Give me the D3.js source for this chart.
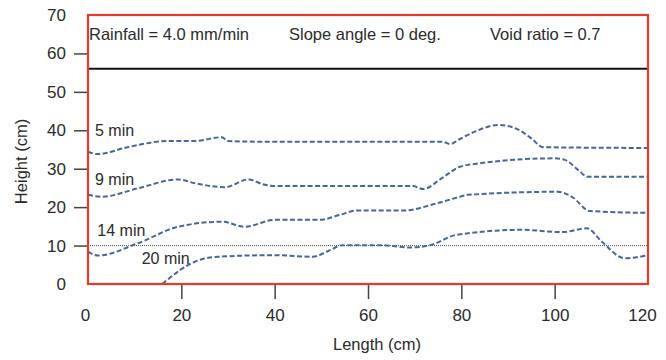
<!DOCTYPE html>
<html>
<head>
<meta charset="utf-8">
<script src="https://cdn.jsdelivr.net/npm/d3@7"></script>
<style>
  html, body { margin: 0; padding: 0; background: #fff; }
  svg { display: block; font-family: "Liberation Sans", Arial, Helvetica, sans-serif; }
</style>
</head>
<body>
<svg id="chart" width="666" height="360"></svg>
<script>
// Surface profiles of the slope model at successive times
const xTicks = [0, 20, 40, 60, 80, 100, 120];
const yTicks = [0, 10, 20, 30, 40, 50, 60, 70];

const seriesNames = ["5 min", "9 min", "14 min", "20 min"];

const len5 =  [0, 2.1, 8.5, 17.1, 22.9, 28.7, 30, 40, 76, 77.6, 79.5, 83, 88, 92, 95, 97.5, 120];
const h5 =    [34.4, 33.8, 35.6, 37.2, 37.2, 38.2, 37.2, 37.0, 37.0, 36.4, 37.6, 39.7, 41.4, 40.3, 37.9, 35.6, 35.4];

const len9 =  [0, 3, 10.7, 19.3, 23, 29.4, 34.3, 37.9, 40, 69.6, 71.8, 76, 79.7, 81.4, 100, 102.2, 105, 107.1, 120];
const h9 =    [23.2, 22.7, 24.9, 27.2, 26.2, 25.2, 27.2, 25.8, 25.5, 25.5, 24.7, 27.7, 30.5, 31.0, 32.7, 32.3, 29.7, 27.9, 27.9];

const len14 = [0, 2.1, 10.7, 19.3, 28.7, 33.6, 40, 49.7, 54, 57.6, 67.5, 74.8, 79.7, 81.4, 100.7, 103.7, 107.5, 120];
const h14 =   [8.4, 7.4, 10.6, 14.9, 16.2, 14.9, 16.7, 16.7, 18.0, 19.1, 19.1, 21.0, 22.7, 23.2, 24.0, 22.7, 19.0, 18.5];

const len20 = [15.9, 22.9, 27.9, 40, 48.2, 51.5, 54.6, 62.6, 69, 73.3, 79, 93, 101.6, 106.9, 110.1, 115, 120];
const h20 =   [0, 5.8, 7.1, 7.5, 7.1, 8.6, 10.1, 10.1, 9.5, 10.1, 12.8, 14.1, 13.5, 14.5, 11.0, 6.7, 7.5];

const lengths = [len5, len9, len14, len20];
const heights = [h5, h9, h14, h20];

const topLevel = 56;       // solid line near the top of the model
const refLevel = 10;       // dotted reference level
const notes = ["Rainfall = 4.0 mm/min", "Slope angle = 0 deg.", "Void ratio = 0.7"];

const svg = d3.select("#chart");
const x = d3.scaleLinear().domain([0, 120]).range([88, 648]);
const y = d3.scaleLinear().domain([0, 70]).range([284, 15]);

const ink = "#2b2b2b";
const blue = "#46679e";

// y axis
const yAxis = svg.append("g")
  .attr("transform", `translate(${x(0)},0)`)
  .call(d3.axisLeft(y).tickValues(yTicks).tickSize(14).tickPadding(8).tickSizeOuter(0));
yAxis.select(".domain").remove();
yAxis.selectAll(".tick line").attr("stroke", "#444").attr("stroke-width", 1.5)
  .filter(d => d === 0 || d === 70).remove();
yAxis.selectAll(".tick text").attr("fill", ink).style("font-size", "17px");

// x axis
const xAxis = svg.append("g")
  .attr("transform", `translate(0,${y(0)})`)
  .call(d3.axisBottom(x).tickValues(xTicks).tickSize(15).tickPadding(10).tickSizeOuter(0));
xAxis.select(".domain").remove();
xAxis.selectAll(".tick line").attr("stroke", "#444").attr("stroke-width", 1.5)
  .filter(d => d === 0 || d === 120).remove();
xAxis.selectAll(".tick text").attr("fill", ink).style("font-size", "17px")
  .attr("dx", d => d === 0 ? -3 : d === 120 ? -6 : 0);

// axis titles
svg.append("text")
  .attr("x", 377).attr("y", 350)
  .attr("text-anchor", "middle").attr("fill", ink).style("font-size", "16.5px")
  .text("Length (cm)");
svg.append("text")
  .attr("transform", `translate(27,${(y(0) + y(70)) / 2 + 12}) rotate(-90)`)
  .attr("text-anchor", "middle").attr("fill", ink).style("font-size", "16.5px")
  .text("Height (cm)");

// dotted reference line
svg.append("line")
  .attr("x1", x(0)).attr("x2", x(120))
  .attr("y1", y(refLevel)).attr("y2", y(refLevel))
  .attr("stroke", "#555").attr("stroke-width", 1).attr("stroke-dasharray", "1,1");

// solid top line
svg.append("line")
  .attr("x1", x(0)).attr("x2", x(120))
  .attr("y1", y(topLevel)).attr("y2", y(topLevel))
  .attr("stroke", "#111").attr("stroke-width", 2);

// profile curves
const line = d3.line()
  .x(d => x(d[0]))
  .y(d => y(d[1]))
  .curve(d3.curveMonotoneX);

seriesNames.forEach((name, i) => {
  const pts = lengths[i].map((v, j) => [v, heights[i][j]]);
  svg.append("path")
    .attr("d", line(pts))
    .attr("fill", "none")
    .attr("stroke", blue)
    .attr("stroke-width", 2)
    .attr("stroke-dasharray", "5,2.5");
});

// curve labels, anchored in data units
const labelAt = [[1.5, 38.4], [1.5, 25.8], [2.0, 12.6], [11.5, 5.3]];
seriesNames.forEach((name, i) => {
  svg.append("text")
    .attr("x", x(labelAt[i][0])).attr("y", y(labelAt[i][1]))
    .attr("fill", ink).style("font-size", "16px")
    .text(name);
});

// test conditions
const noteX = [89, 289, 490];
notes.forEach((t, i) => {
  svg.append("text")
    .attr("x", noteX[i]).attr("y", 40)
    .attr("fill", ink).style("font-size", "16.5px")
    .text(t);
});

// plot frame
svg.append("rect")
  .attr("x", x(0)).attr("y", y(70))
  .attr("width", x(120) - x(0)).attr("height", y(0) - y(70))
  .attr("fill", "none")
  .attr("stroke", "#e63b2c")
  .attr("stroke-width", 2.2);
</script>
</body>
</html>
